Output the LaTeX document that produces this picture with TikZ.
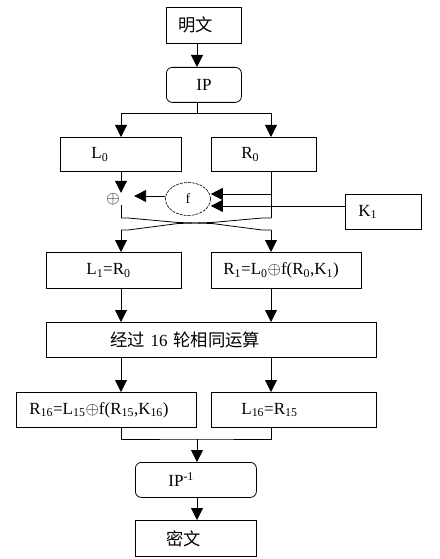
\documentclass[tikz,border=0pt]{standalone}
\usepackage{fontspec}
\setmainfont{Liberation Serif}
\newfontfamily\cjk[Scale=1.02]{Noto Sans CJK SC}
\usetikzlibrary{arrows.meta,shapes.geometric}

\tikzset{
	blk/.style={draw, anchor=north west, align=left, inner ysep=0pt, font=\fontsize{17}{20}\selectfont},
	rblk/.style={blk, rounded corners=6pt},
	arr/.style={-{Triangle[length=12pt,width=12pt]}},
}

\begin{document}
\begin{tikzpicture}[x=1pt, y=-1pt, line width=0.8pt]
	\useasboundingbox (0,0) rectangle (439,559);
	\coordinate (lc) at (121,0);
	\coordinate (mc) at (197,0);
	\coordinate (rc) at (271,0);
	\node[blk, text width=51pt, inner xsep=12pt, minimum height=36pt] (a0) at (166,7) {\cjk 明文};
	\node[rblk, text width=15pt, inner xsep=30pt, minimum height=35pt] (ip) at (166,67) {IP};
	\node[blk, text width=59pt, inner xsep=31pt, minimum height=34pt] (l0) at (60,137) {L\textsubscript{0}};
	\node[blk, text width=45pt, inner xsep=30pt, minimum height=34pt] (r0) at (211,137) {R\textsubscript{0}};
	\node[blk, text width=50pt, inner xsep=13pt, minimum height=35pt] (k1) at (345,194) {K\textsubscript{1}};
	\node[draw, ellipse, dash pattern=on 3pt off 1pt, line width=0.6pt, minimum width=45pt, minimum height=33pt, inner sep=0pt, font=\fontsize{14}{16}\selectfont] (f) at (188,199) {f};
	\node[inner sep=0pt, font=\fontsize{18}{20}\selectfont] (xor) at (113,199) {$\oplus$};
	\node[blk, text width=55pt, inner xsep=40pt, minimum height=36pt] (l1) at (46,252) {L\textsubscript{1}=R\textsubscript{0}};
	\node[blk, text width=126pt, inner xsep=12pt, minimum height=36pt] (r1) at (211,252) {R\textsubscript{1}=L\textsubscript{0}$\oplus$f(R\textsubscript{0},K\textsubscript{1})};
	\node[blk, text width=202pt, inner xsep=64pt, minimum height=35pt] (rounds) at (46,322) {{\cjk 经过} 16 {\cjk 轮相同运算}};
	\node[blk, text width=154pt, inner xsep=13pt, minimum height=35pt] (r16) at (16,392) {R\textsubscript{16}=L\textsubscript{15}$\oplus$f(R\textsubscript{15},K\textsubscript{16})};
	\node[blk, text width=105pt, inner xsep=30pt, minimum height=35pt] (l16) at (211,392) {L\textsubscript{16}=R\textsubscript{15}};
	\node[rblk, text width=55pt, inner xsep=33pt, minimum height=35pt] (ipinv) at (135,462) {IP\textsuperscript{-1}};
	\node[blk, text width=59pt, inner xsep=31pt, minimum height=36pt] (a1) at (135,520) {\cjk 密文};
	\coordinate (j0) at (197,113);
	\coordinate (t0) at (271,194);
	\coordinate (s0) at (121,218);
	\coordinate (s1) at (271,218);
	\coordinate (e0) at (121,230);
	\coordinate (e1) at (271,230);
	\coordinate (j1) at (197,439);
	\draw[arr] (a0.south -| mc) -- (ip.north -| mc);
	\draw (ip.south -| mc) -- (j0);
	\draw[arr] (j0) -| (l0.north -| lc);
	\draw[arr] (j0) -| (r0.north -| rc);
	\draw[arr] (l0.south -| lc) -- (xor.north -| lc);
	\draw (xor.south -| lc) -- (s0);
	\draw (r0.south -| rc) -- (s1);
	\draw[arr] (t0) -- (t0 -| f.east);
	\draw[arr] ([yshift=6pt]k1.west) -- ([yshift=6pt]k1.west -| f.east);
	\draw[arr, shorten >=14pt] ([yshift=3pt]f.west) -- ([yshift=3pt]f.west -| xor.east);
	\draw (s0) -- ++(7,0) -- (178,222.5) -- (212,223.5) -- (262,230) -- (e1);
	\draw (s1) -- ++(-9,0) -- (212,222.5) -- (178,223.5) -- (128,230) -- (e0);
	\draw[arr] (e0) -- (l1.north -| lc);
	\draw[arr] (e1) -- (r1.north -| rc);
	\draw[arr] (l1.south -| lc) -- (rounds.north -| lc);
	\draw[arr] (r1.south -| rc) -- (rounds.north -| rc);
	\draw[arr] (rounds.south -| lc) -- (r16.north -| lc);
	\draw[arr] (rounds.south -| rc) -- (l16.north -| rc);
	\draw (r16.south -| lc) |- (j1) -| (l16.south -| rc);
	\draw[arr] (j1) -- (ipinv.north -| mc);
	\draw[arr] (ipinv.south -| mc) -- (a1.north -| mc);
\end{tikzpicture}
\end{document}
